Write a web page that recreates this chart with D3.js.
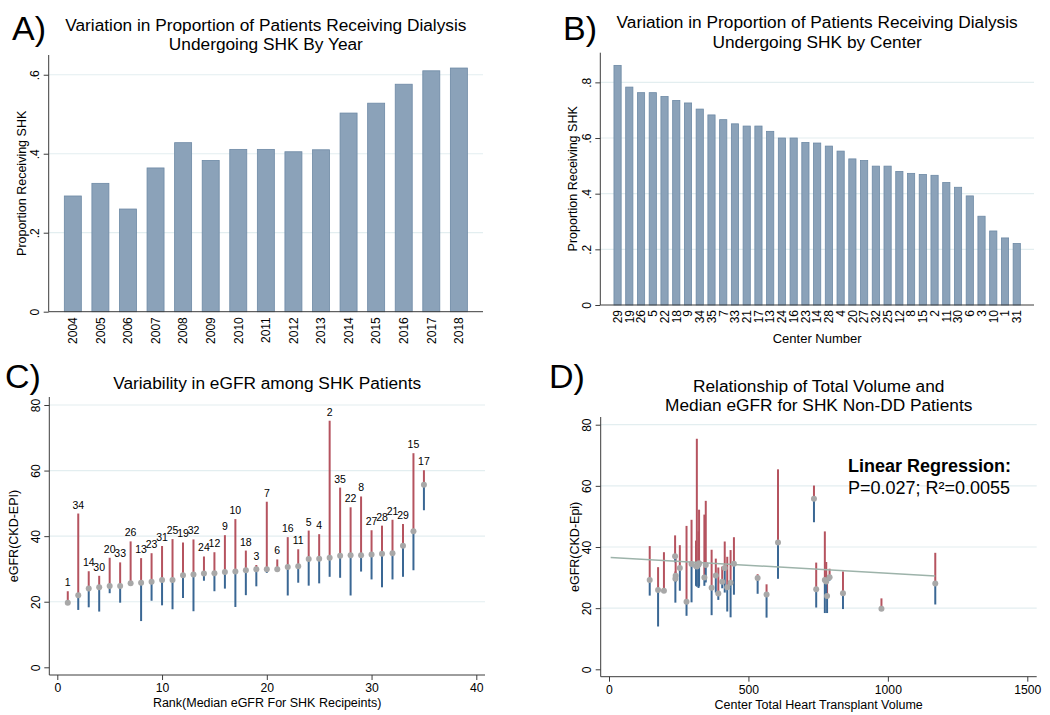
<!DOCTYPE html>
<html><head><meta charset="utf-8">
<script src="https://cdn.jsdelivr.net/npm/d3@7"></script>
<style>
body{margin:0;background:#fff;}
svg{display:block;}
</style></head><body>
<svg id="c" width="1050" height="715"></svg>
<script>
// ---------- Panel A data ----------
const years = ["2004","2005","2006","2007","2008","2009","2010","2011","2012","2013","2014","2015","2016","2017","2018"];
const propByYear = [0.293,0.325,0.260,0.364,0.428,0.383,0.411,0.411,0.405,0.410,0.503,0.528,0.576,0.610,0.617];
const yTicksA = [0,0.2,0.4,0.6];
const yTickLabelsA = ["0",".2",".4",".6"];

// ---------- Panel B data ----------
const centers = ["29","19","26","5","22","18","9","34","35","7","33","21","17","13","24","16","23","14","28","4","20","27","32","25","12","8","15","2","11","30","6","3","10","1","31"];
const propByCenter = [0.861,0.783,0.763,0.763,0.749,0.735,0.726,0.704,0.683,0.666,0.651,0.643,0.643,0.624,0.600,0.600,0.584,0.582,0.571,0.553,0.525,0.519,0.499,0.499,0.480,0.473,0.469,0.466,0.440,0.423,0.392,0.319,0.266,0.241,0.221];
const yTicksB = [0,0.2,0.4,0.6,0.8];
const yTickLabelsB = ["0",".2",".4",".6",".8"];

// ---------- Panel C data (rank = index + 1) ----------
const rankCenter = ["1","34","14","30","20","33","26","13","23","31","25","19","32","24","12","9","10","18","3","7","6","16","11","5","4","2","35","22","8","27","28","21","29","15","17"];
const cMedian = [19.7,22.0,24.0,24.4,24.8,24.8,25.6,25.8,26.1,26.6,26.6,28.1,28.3,28.6,28.7,29.1,29.2,29.6,29.9,29.9,29.9,30.6,30.8,33.0,33.1,33.4,34.0,34.2,34.2,34.4,34.6,34.8,37.1,41.5,55.7];
const cLow    = [19.6,17.5,18.3,17.0,22.6,19.7,25.2,14.1,20.3,18.9,17.7,21.1,17.1,26.4,23.2,24.0,18.4,22.0,24.7,28.8,29.1,21.9,25.8,24.9,25.6,27.6,27.3,21.9,29.2,26.8,24.4,26.8,27.6,29.6,47.9];
const cHigh   = [23.2,46.9,29.3,27.9,33.4,32.0,38.4,33.3,34.8,37.0,39.1,38.1,39.0,33.8,35.1,40.3,45.2,35.6,31.2,50.5,32.9,39.7,36.0,41.7,40.6,75.2,54.8,48.8,52.1,41.8,43.2,45.0,43.7,65.3,60.1];
const xTicksC = [0,10,20,30,40];
const yTicksC = [0,20,40,60,80];

// ---------- Panel D data ----------
const dVolume = [146,176,197,237,239,238,254,278,296,312,315,321,323,342,347,368,383,392,406,415,424,436,448,533,565,606,735,743,774,779,782,791,839,977,1170];
const dMedian = [29.2,25.9,25.7,37.0,30.6,29.6,33.1,22.1,34.4,33.8,33.6,34.2,34.7,30.0,34.1,26.7,30.7,24.8,28.6,33.1,26.8,28.3,34.5,29.9,24.5,41.5,55.8,26.2,29.2,28.7,24.0,30.1,24.9,19.8,28.1];
const dLow    = [24.1,14.0,25.4,35.0,28.5,21.8,25.7,17.5,21.9,27.3,27.0,26.6,27.1,27.3,28.4,17.7,25.1,22.7,26.5,25.1,18.9,17.0,24.4,24.7,16.9,29.6,48.1,20.2,18.4,24.0,18.4,29.0,19.7,19.6,21.2];
const dHigh   = [40.3,33.4,38.3,43.8,36.8,32.0,40.6,46.9,48.9,42.1,75.4,45.1,52.2,50.6,55.1,39.1,36.2,33.3,33.6,41.8,36.8,39.0,43.2,31.1,27.8,65.4,60.1,34.9,45.1,35.1,30.4,32.9,32.0,23.2,38.1];
const fitVolume = [6,1170];
const fitEGFR = [36.6,30.5];
const xTicksD = [0,500,1000,1500];
const yTicksD = [0,20,40,60,80];

// ---------- styles ----------
const FONT = '"Liberation Sans", Arial, Helvetica, sans-serif';
const AXIS = "#3c3c3c", GRID = "#e3eef0";
const BAR_FILL = "#8ba2b9", BAR_EDGE = "#6d89a5";
const RED = "#b5535f", BLUE = "#3a6794", DOT = "#a8a8a8", FIT = "#9db3aa";

const svg = d3.select("#c").attr("font-family", FONT);
svg.append("rect").attr("width",1050).attr("height",715).attr("fill","#fff");

function txt(g, s, x, y, size, opts={}) {
  const t = g.append("text").attr("x",x).attr("y",y).attr("font-size",size)
    .attr("font-family",FONT).attr("fill","#000").text(s);
  if (opts.anchor) t.attr("text-anchor",opts.anchor);
  if (opts.weight) t.attr("font-weight",opts.weight);
  if (opts.rotate) t.attr("transform",`rotate(-90,${x},${y})`);
  return t;
}

function yAxis(g, y, ticks, labels, x0, x1, yTop, yBot) {
  g.append("g").selectAll("line").data(ticks.filter(t => t !== 0)).join("line")
    .attr("x1", x0).attr("x2", x1).attr("y1", d => y(d)).attr("y2", d => y(d))
    .attr("stroke", GRID).attr("stroke-width", 1.2);
  const ax = g.append("g").attr("transform", `translate(${x0},0)`)
    .call(d3.axisLeft(y).tickValues(ticks).tickFormat((d,i) => labels[i]).tickSize(5));
  ax.select(".domain").remove();
  ax.selectAll(".tick line").attr("stroke", AXIS);
  ax.selectAll(".tick text").attr("transform","rotate(-90)").attr("x",0).attr("y",-9.5).attr("dy",0)
    .attr("text-anchor","middle").attr("font-size",12).attr("font-family",FONT).attr("fill","#000");
  g.append("line").attr("x1",x0).attr("x2",x0).attr("y1",yTop).attr("y2",yBot).attr("stroke",AXIS);
}

function xAxisNum(g, x, ticks, yAxisPos, x0, x1, labY) {
  const ax = g.append("g").attr("transform", `translate(0,${yAxisPos})`)
    .call(d3.axisBottom(x).tickValues(ticks).tickFormat(d3.format("d")).tickSize(5));
  ax.select(".domain").remove();
  ax.selectAll(".tick line").attr("stroke", AXIS);
  ax.selectAll(".tick text").attr("y",labY).attr("dy",0).attr("font-size",12.2)
    .attr("font-family",FONT).attr("fill","#000");
  g.append("line").attr("x1",x0).attr("x2",x1).attr("y1",yAxisPos).attr("y2",yAxisPos).attr("stroke",AXIS);
}

// ================= Panel A =================
{
  const g = svg.append("g");
  const L = 48.7, R = 483, T = 55, B = 311.7;
  const x = d3.scalePoint().domain(years).range([L, R]).padding(0.875);
  const y = d3.scaleLinear().domain([0, 0.65]).range([B, T]);
  yAxis(g, y, yTicksA, yTickLabelsA, L, R, T, B);
  g.append("g").selectAll("rect").data(years).join("rect")
    .attr("x", d => x(d) - 8.5).attr("width", 17)
    .attr("y", (d,i) => y(propByYear[i])).attr("height", (d,i) => y(0) - y(propByYear[i]))
    .attr("fill", BAR_FILL).attr("stroke", BAR_EDGE).attr("stroke-width", 0.8);
  g.append("line").attr("x1",L).attr("x2",R).attr("y1",B).attr("y2",B).attr("stroke",AXIS);
  g.append("g").selectAll("text").data(years).join("text")
    .attr("transform", d => `translate(${x(d)+4.3},${B+5.5}) rotate(-90)`)
    .attr("text-anchor","end").attr("font-size",12).attr("font-family",FONT).text(d => d);
  txt(g, "Proportion Receiving SHK", 26, (T+B)/2, 12.5, {anchor:"middle", rotate:true});
  txt(g, "Variation in Proportion of Patients Receiving Dialysis", (L+R)/2, 30.5, 17.3, {anchor:"middle"});
  txt(g, "Undergoing SHK By Year", (L+R)/2, 50, 17.3, {anchor:"middle"});
  txt(g, "A)", 12, 40, 34);
}

// ================= Panel B =================
{
  const g = svg.append("g");
  const L = 600.3, R = 1034, T = 52.7, B = 305;
  const x = d3.scalePoint().domain(centers).range([L, R]).padding(1.47);
  const y = d3.scaleLinear().domain([0, 0.9066]).range([B, T]);
  yAxis(g, y, yTicksB, yTickLabelsB, L, R, T, B);
  g.append("g").selectAll("rect").data(centers).join("rect")
    .attr("x", d => x(d) - 3.6).attr("width", 7.2)
    .attr("y", (d,i) => y(propByCenter[i])).attr("height", (d,i) => y(0) - y(propByCenter[i]))
    .attr("fill", BAR_FILL).attr("stroke", BAR_EDGE).attr("stroke-width", 0.8);
  g.append("line").attr("x1",L).attr("x2",R).attr("y1",B).attr("y2",B).attr("stroke",AXIS);
  g.append("g").selectAll("text").data(centers).join("text")
    .attr("transform", d => `translate(${x(d)+4.3},${B+5}) rotate(-90)`)
    .attr("text-anchor","end").attr("font-size",12).attr("font-family",FONT).text(d => d);
  txt(g, "Proportion Receiving SHK", 577, (T+B)/2, 12.5, {anchor:"middle", rotate:true});
  txt(g, "Center Number", (L+R)/2, 343, 13, {anchor:"middle"});
  txt(g, "Variation in Proportion of Patients Receiving Dialysis", (L+R)/2, 28, 17.3, {anchor:"middle"});
  txt(g, "Undergoing SHK by Center", (L+R)/2, 47.5, 17.3, {anchor:"middle"});
  txt(g, "B)", 563, 40, 34);
}

// ================= Panel C =================
{
  const g = svg.append("g");
  const L = 49.3, R = 485, T = 397, B = 675;
  const x = d3.scaleLinear().domain([0, 40]).range([57.3, 476.3]);
  const y = d3.scaleLinear().domain([0, 80]).range([667.3, 405]);
  yAxis(g, y, yTicksC, yTicksC.map(String), L, R, T, B);
  xAxisNum(g, x, xTicksC, B, L, R, 16.8);
  const idx = d3.range(rankCenter.length);
  g.append("g").selectAll("line").data(idx).join("line")
    .attr("x1", i => x(i+1)).attr("x2", i => x(i+1))
    .attr("y1", i => y(cMedian[i])).attr("y2", i => y(cHigh[i]))
    .attr("stroke", RED).attr("stroke-width", 2);
  g.append("g").selectAll("line").data(idx).join("line")
    .attr("x1", i => x(i+1)).attr("x2", i => x(i+1))
    .attr("y1", i => y(cLow[i])).attr("y2", i => y(cMedian[i]))
    .attr("stroke", BLUE).attr("stroke-width", 2);
  g.append("g").selectAll("circle").data(idx).join("circle")
    .attr("cx", i => x(i+1)).attr("cy", i => y(cMedian[i])).attr("r", 3)
    .attr("fill", DOT);
  g.append("g").selectAll("text").data(idx).join("text")
    .attr("x", i => x(i+1)).attr("y", i => y(cHigh[i]) - 5)
    .attr("text-anchor","middle").attr("font-size",10.5).attr("font-family",FONT)
    .text(i => rankCenter[i]);
  txt(g, "eGFR(CKD-EPI)", 18, (T+B)/2, 12.5, {anchor:"middle", rotate:true});
  txt(g, "Rank(Median eGFR For SHK Recipeints)", (L+R)/2, 707, 12.5, {anchor:"middle"});
  txt(g, "Variability in eGFR among SHK Patients", (L+R)/2, 389, 17.3, {anchor:"middle"});
  txt(g, "C)", 5, 388, 34);
}

// ================= Panel D =================
{
  const g = svg.append("g");
  const L = 600.7, R = 1036.7, T = 417, B = 676.7;
  const x = d3.scaleLinear().domain([0, 1500]).range([609, 1027.3]);
  const y = d3.scaleLinear().domain([0, 80]).range([669.3, 424.7]);
  yAxis(g, y, yTicksD, yTicksD.map(String), L, R, T, B);
  xAxisNum(g, x, xTicksD, B, L, R, 17.5);
  const idx = d3.range(dVolume.length);
  g.append("g").selectAll("line").data(idx).join("line")
    .attr("x1", i => x(dVolume[i])).attr("x2", i => x(dVolume[i]))
    .attr("y1", i => y(dMedian[i])).attr("y2", i => y(dHigh[i]))
    .attr("stroke", RED).attr("stroke-width", 2);
  g.append("g").selectAll("line").data(idx).join("line")
    .attr("x1", i => x(dVolume[i])).attr("x2", i => x(dVolume[i]))
    .attr("y1", i => y(dLow[i])).attr("y2", i => y(dMedian[i]))
    .attr("stroke", BLUE).attr("stroke-width", 2);
  g.append("path")
    .attr("d", d3.line().x((d,i) => x(fitVolume[i])).y((d,i) => y(fitEGFR[i]))(fitVolume))
    .attr("stroke", FIT).attr("stroke-width", 1.5).attr("fill","none");
  g.append("g").selectAll("circle").data(idx).join("circle")
    .attr("cx", i => x(dVolume[i])).attr("cy", i => y(dMedian[i])).attr("r", 3)
    .attr("fill", DOT);
  txt(g, "eGFR(CKD-Epi)", 579, (T+B)/2, 12.5, {anchor:"middle", rotate:true});
  txt(g, "Center Total Heart Transplant Volume", (L+R)/2, 709, 12.5, {anchor:"middle"});
  txt(g, "Relationship of Total Volume and", (L+R)/2, 391.5, 17.3, {anchor:"middle"});
  txt(g, "Median eGFR for SHK Non-DD Patients", (L+R)/2, 411, 17.3, {anchor:"middle"});
  txt(g, "D)", 549, 388, 34);
  txt(g, "Linear Regression:", 848, 471.5, 18, {weight:"bold"});
  txt(g, "P=0.027; R\u00B2=0.0055", 848, 494, 18);
}
</script>
</body></html>
